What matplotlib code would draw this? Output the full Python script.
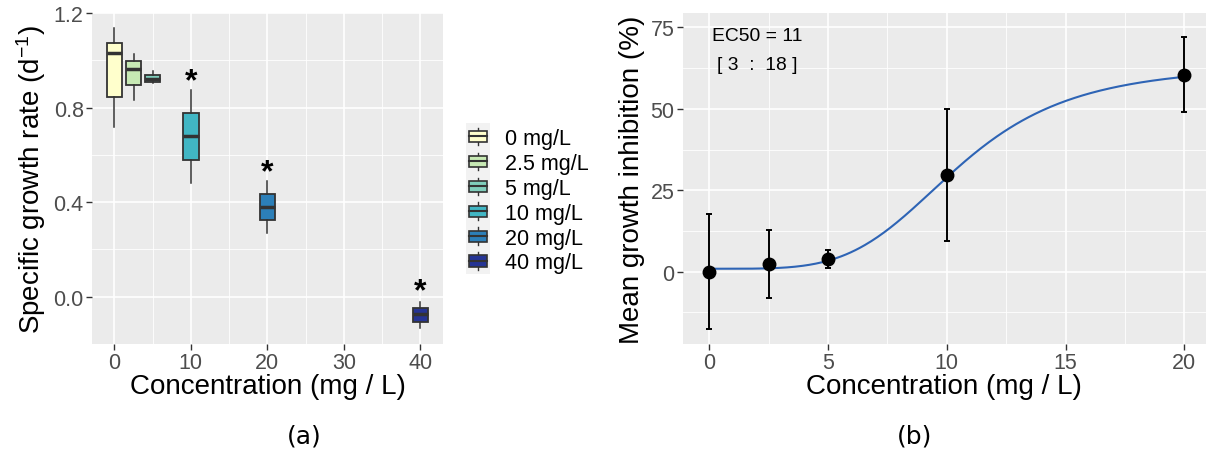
import numpy as np
import matplotlib
matplotlib.use('Agg')
import matplotlib.pyplot as plt
from matplotlib.patches import Patch, Rectangle
from matplotlib.lines import Line2D
from matplotlib.legend_handler import HandlerBase

plt.rcParams['font.family'] = ['Liberation Sans', 'DejaVu Sans']
plt.rcParams['mathtext.fontset'] = 'custom'
plt.rcParams['mathtext.rm'] = 'Liberation Sans'
plt.rcParams['mathtext.it'] = 'Liberation Sans'

# Panel (a): specific growth rate boxplots
conc = [0, 2.5, 5, 10, 20, 40]
conc_labels = ['0 mg/L', '2.5 mg/L', '5 mg/L', '10 mg/L', '20 mg/L', '40 mg/L']
whislo = [0.718, 0.831, 0.905, 0.483, 0.270, -0.134]
q1 = [0.845, 0.896, 0.910, 0.579, 0.325, -0.106]
med = [1.032, 0.963, 0.922, 0.681, 0.380, -0.073]
q3 = [1.073, 0.997, 0.936, 0.776, 0.435, -0.046]
whishi = [1.138, 1.028, 0.955, 0.873, 0.488, -0.024]
box_colors = ['#FFFFCC', '#C7E9B4', '#7FCDBB', '#41B6C4', '#2C7FB8', '#253494']
star_x = [10, 20, 40]
star_y = [0.936, 0.553, 0.048]

# Panel (b): mean growth inhibition with fitted dose-response curve
dose = [0, 2.5, 5, 10, 20]
inhib = [0.0, 2.4, 3.9, 29.7, 60.4]
inhib_sd = [17.6, 10.5, 2.9, 20.3, 11.5]
# log-logistic fit parameters (lower, upper, ec, slope)
fit_lower, fit_upper, fit_ec, fit_slope = 0.9, 63.5, 10.5, 4.3


def ll4(x, c, d, e, b):
    x = np.asarray(x, dtype=float)
    r = (x / e) ** b
    return c + (d - c) * r / (1 + r)


class BoxKey(HandlerBase):
    def create_artists(self, legend, orig_handle, xdescent, ydescent,
                       width, height, fontsize, trans):
        x0, y0 = -xdescent, -ydescent
        bg = Rectangle((x0, y0 - 2), width, height + 4, facecolor='#F2F2F2',
                       edgecolor='none', transform=trans)
        cx = x0 + width / 2
        wh = Line2D([cx, cx], [y0 + 0.08 * height, y0 + 0.92 * height],
                    color='#333333', lw=1, transform=trans)
        bw, bh = width * 0.72, height * 0.54
        box = Rectangle((cx - bw / 2, y0 + height / 2 - bh / 2), bw, bh,
                        facecolor=orig_handle.get_facecolor(),
                        edgecolor='#333333', lw=1.2, transform=trans)
        md = Line2D([cx - bw / 2, cx + bw / 2], [y0 + height / 2] * 2,
                    color='#333333', lw=1.5, transform=trans)
        return [bg, wh, box, md]


def gg_style(ax):
    ax.set_facecolor('#EBEBEB')
    for s in ax.spines.values():
        s.set_visible(False)
    ax.grid(which='major', color='white', lw=1.2)
    ax.grid(which='minor', color='white', lw=0.6)
    ax.set_axisbelow(True)
    ax.tick_params(which='major', length=4, width=1, color='#333333',
                   labelcolor='#4D4D4D', labelsize=15.5, pad=2)
    ax.tick_params(which='minor', length=0)


fig = plt.figure(figsize=(12.08, 4.56), dpi=100)
ax1 = fig.add_axes([0.0762, 0.2434, 0.2906, 0.7259])
ax2 = fig.add_axes([0.5651, 0.2434, 0.4332, 0.7259])

# ---- (a)
gg_style(ax1)
stats = [dict(med=m, q1=a, q3=b, whislo=lo, whishi=hi, fliers=[])
         for m, a, b, lo, hi in zip(med, q1, q3, whislo, whishi)]
bp = ax1.bxp(stats, positions=conc, widths=2, patch_artist=True,
             showfliers=False, showcaps=False, manage_ticks=False,
             boxprops=dict(edgecolor='#333333', lw=1.3),
             medianprops=dict(color='#333333', lw=2.5),
             whiskerprops=dict(color='#333333', lw=1.1))
for patch, c in zip(bp['boxes'], box_colors):
    patch.set_facecolor(c)
for sx, sy in zip(star_x, star_y):
    ax1.annotate('*', (sx, sy), xytext=(0, -10.3), textcoords='offset points',
                 ha='center', va='baseline', fontsize=23, fontweight='bold')
ax1.set_xlim(-2.93, 43.0)
ax1.set_ylim(-0.197, 1.2)
ax1.set_xticks([0, 10, 20, 30, 40])
ax1.set_xticks([5, 15, 25, 35], minor=True)
ax1.set_yticks([0.0, 0.4, 0.8, 1.2])
ax1.set_yticklabels(['0.0', '0.4', '0.8', '1.2'])
ax1.set_yticks([-0.2, 0.2, 0.6, 1.0], minor=True)
ax1.set_xlabel('Concentration (mg / L)', fontsize=20, va='center')
ax1.set_ylabel(r'Specific growth rate (d$^{-1}$)', fontsize=20, va='center')
ax1.xaxis.set_label_coords(0.5, -0.128)
ax1.yaxis.set_label_coords(-0.174, 0.5)

handles = [Patch(facecolor=c, edgecolor='#333333', label=l)
           for c, l in zip(box_colors, conc_labels)]
fig.legend(handles=handles, handler_map={Patch: BoxKey()},
           loc='upper left', bbox_to_anchor=(466 / 1208, 1 - 127 / 456),
           frameon=False, fontsize=15.5, handlelength=1.12, handleheight=1.12,
           labelspacing=0.1, handletextpad=0.7, borderpad=0, borderaxespad=0)

# ---- (b)
gg_style(ax2)
xs = np.linspace(0, 20, 300)
ax2.plot(xs, ll4(xs, fit_lower, fit_upper, fit_ec, fit_slope),
         color='#2E64B5', lw=1.5, zorder=2)
ax2.errorbar(dose, inhib, yerr=inhib_sd, fmt='o', color='black', ms=9,
             ecolor='black', elinewidth=1.4, capsize=2.5, capthick=1.4, zorder=3)
ax2.text(2, 72.4, 'EC50 = 11', ha='center', va='center', fontsize=13.9)
ax2.text(2, 63.7, '[ 3  :  18 ]', ha='center', va='center', fontsize=13.9)
ax2.set_xlim(-1.12, 20.91)
ax2.set_ylim(-22.2, 79.4)
ax2.set_xticks([0, 5, 10, 15, 20])
ax2.set_xticks([2.5, 7.5, 12.5, 17.5], minor=True)
ax2.set_yticks([0, 25, 50, 75])
ax2.set_yticks([-12.5, 12.5, 37.5, 62.5], minor=True)
ax2.set_xlabel('Concentration (mg / L)', fontsize=20, va='center')
ax2.set_ylabel('Mean growth inhibition (%)', fontsize=20, va='center')
ax2.xaxis.set_label_coords(0.5, -0.128)
ax2.yaxis.set_label_coords(-0.096, 0.5)

fig.text(304 / 1208, 1 - 437 / 456, '(a)', ha='center', va='center',
         fontsize=18, family='DejaVu Sans')
fig.text(915 / 1208, 1 - 437 / 456, '(b)', ha='center', va='center',
         fontsize=18, family='DejaVu Sans')

fig.savefig('out.png', dpi=100)
